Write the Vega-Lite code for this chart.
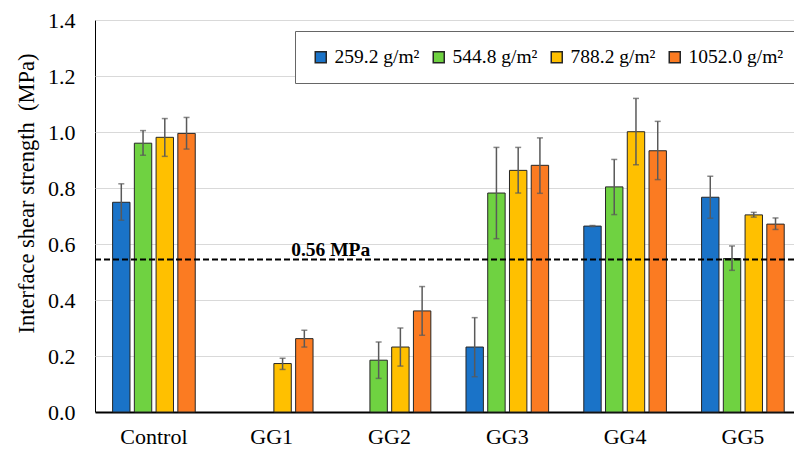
{
  "$schema": "https://vega.github.io/schema/vega-lite/v6.json",
  "autosize": "none",
  "padding": {"left": 95, "top": 20, "right": 0, "bottom": 39},
  "width": 699,
  "height": 392,
  "background": "white",
  "config": {
    "font": "Liberation Serif",
    "view": {"stroke": "#000", "strokeWidth": 1},
    "axis": {"labelFont": "Liberation Serif", "titleFont": "Liberation Serif", "labelColor": "#000", "titleColor": "#000"}
  },
  "datasets": {
    "bars": [
      {"group": "Control", "series": "259.2 g/m²", "value": 0.749, "lo": 0.685, "hi": 0.815},
      {"group": "Control", "series": "544.8 g/m²", "value": 0.960, "lo": 0.917, "hi": 1.005},
      {"group": "Control", "series": "788.2 g/m²", "value": 0.981, "lo": 0.913, "hi": 1.048},
      {"group": "Control", "series": "1052.0 g/m²", "value": 0.995, "lo": 0.939, "hi": 1.052},
      {"group": "GG1", "series": "788.2 g/m²", "value": 0.173, "lo": 0.152, "hi": 0.192},
      {"group": "GG1", "series": "1052.0 g/m²", "value": 0.262, "lo": 0.232, "hi": 0.292},
      {"group": "GG2", "series": "544.8 g/m²", "value": 0.185, "lo": 0.120, "hi": 0.250},
      {"group": "GG2", "series": "788.2 g/m²", "value": 0.232, "lo": 0.164, "hi": 0.300},
      {"group": "GG2", "series": "1052.0 g/m²", "value": 0.361, "lo": 0.274, "hi": 0.448},
      {"group": "GG3", "series": "259.2 g/m²", "value": 0.232, "lo": 0.126, "hi": 0.337},
      {"group": "GG3", "series": "544.8 g/m²", "value": 0.782, "lo": 0.619, "hi": 0.945},
      {"group": "GG3", "series": "788.2 g/m²", "value": 0.863, "lo": 0.782, "hi": 0.945},
      {"group": "GG3", "series": "1052.0 g/m²", "value": 0.881, "lo": 0.781, "hi": 0.979},
      {"group": "GG4", "series": "259.2 g/m²", "value": 0.664, "lo": 0.662, "hi": 0.666},
      {"group": "GG4", "series": "544.8 g/m²", "value": 0.804, "lo": 0.705, "hi": 0.902},
      {"group": "GG4", "series": "788.2 g/m²", "value": 1.001, "lo": 0.883, "hi": 1.120},
      {"group": "GG4", "series": "1052.0 g/m²", "value": 0.933, "lo": 0.830, "hi": 1.038},
      {"group": "GG5", "series": "259.2 g/m²", "value": 0.767, "lo": 0.692, "hi": 0.842},
      {"group": "GG5", "series": "544.8 g/m²", "value": 0.548, "lo": 0.506, "hi": 0.593},
      {"group": "GG5", "series": "788.2 g/m²", "value": 0.704, "lo": 0.696, "hi": 0.713},
      {"group": "GG5", "series": "1052.0 g/m²", "value": 0.671, "lo": 0.652, "hi": 0.693}
    ],
    "ref": [{"ref": 0.545, "label": "0.56 MPa", "anchor": "GG1"}]
  },
  "encoding": {
    "x": {
      "field": "group", "type": "nominal",
      "sort": ["Control", "GG1", "GG2", "GG3", "GG4", "GG5"],
      "scale": {"domain": ["Control", "GG1", "GG2", "GG3", "GG4", "GG5"], "paddingInner": 0.28, "paddingOuter": 0.107, "align": 0.655},
      "axis": {"title": null, "labelAngle": 0, "labelFontSize": 22, "labelPadding": 14, "ticks": false, "domainColor": "#000", "domainWidth": 2, "grid": false}
    },
    "y": {
      "type": "quantitative",
      "scale": {"domain": [0, 1.4], "nice": false},
      "axis": {"title": "Interface shear strength \u00a0(MPa)", "titleFontSize": 22.5, "titleFontWeight": "normal", "titleAngle": -90, "titleX": -62, "titleY": 173, "titleAlign": "center", "titleBaseline": "alphabetic", "labelFontSize": 22, "labelPadding": 20, "ticks": false, "domain": false, "grid": true, "gridColor": "#d9d9d9", "gridWidth": 1, "values": [0, 0.2, 0.4, 0.6, 0.8, 1.0, 1.2, 1.4], "format": ".1f"}
    }
  },
  "layer": [
    {
      "data": {"name": "bars"},
      "mark": {"type": "bar", "stroke": "#262626", "strokeWidth": 1},
      "encoding": {
        "y": {"field": "value", "type": "quantitative"},
        "xOffset": {"field": "series", "type": "nominal", "scale": {"domain": ["259.2 g/m²", "544.8 g/m²", "788.2 g/m²", "1052.0 g/m²"], "paddingInner": 0.2, "paddingOuter": 0.05}},
        "color": {
          "field": "series", "type": "nominal",
          "scale": {"domain": ["259.2 g/m²", "544.8 g/m²", "788.2 g/m²", "1052.0 g/m²"], "range": ["#1a73c8", "#6fd241", "#ffc000", "#fb7b22"]},
          "legend": {
            "title": null, "orient": "none", "legendX": 200, "legendY": 11, "direction": "horizontal",
            "symbolType": "square", "symbolSize": 121, "labelFont": "Liberation Serif", "labelFontSize": 19.5, "labelColor": "#000",
            "labelOffset": 4, "columnPadding": 9, "padding": 16, "strokeColor": "#666", "fillColor": "white",
            "encode": {"symbols": {"update": {"stroke": {"value": "#262626"}, "strokeWidth": {"value": 1}}}}
          }
        }
      }
    },
    {
      "data": {"name": "bars"},
      "mark": {"type": "rule", "color": "#595959", "strokeWidth": 1.5},
      "encoding": {
        "y": {"field": "lo", "type": "quantitative"},
        "y2": {"field": "hi"},
        "xOffset": {"field": "series", "type": "nominal"}
      }
    },
    {
      "data": {"name": "bars"},
      "mark": {"type": "tick", "color": "#595959", "size": 6, "thickness": 1.5},
      "encoding": {
        "y": {"field": "hi", "type": "quantitative"},
        "xOffset": {"field": "series", "type": "nominal"}
      }
    },
    {
      "data": {"name": "bars"},
      "mark": {"type": "tick", "color": "#595959", "size": 6, "thickness": 1.5},
      "encoding": {
        "y": {"field": "lo", "type": "quantitative"},
        "xOffset": {"field": "series", "type": "nominal"}
      }
    },
    {
      "data": {"name": "ref"},
      "mark": {"type": "rule", "color": "#000", "strokeWidth": 2, "strokeDash": [6, 3]},
      "encoding": {
        "x": null,
        "y": {"field": "ref", "type": "quantitative"}
      }
    },
    {
      "data": {"name": "ref"},
      "mark": {"type": "text", "font": "Liberation Serif", "fontWeight": "bold", "fontSize": 19.5, "align": "center", "baseline": "alphabetic", "dx": 59, "dy": -3.5, "color": "#000"},
      "encoding": {
        "x": {"field": "anchor", "type": "nominal"},
        "y": {"field": "ref", "type": "quantitative"},
        "text": {"field": "label"}
      }
    }
  ]
}
